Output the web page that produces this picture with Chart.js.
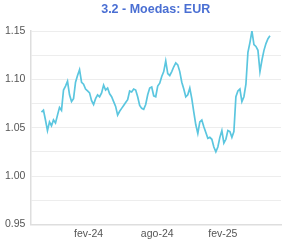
<!DOCTYPE html>
<html>
<head>
<meta charset="utf-8">
<script src="https://cdn.jsdelivr.net/npm/chart.js@4"></script>
<style>
    html, body { margin: 0; padding: 0; background: #fff; }
    #wrap { width: 285px; height: 243px; position: relative; }
</style>
</head>
<body>
<div id="wrap"><canvas id="chart"></canvas></div>
<script>
// EUR quote, one sample about every 5-6 days (Sep 2023 -> Jun 2025)
const rates = [
    1.066, 1.068, 1.058, 1.047, 1.056, 1.052, 1.058, 1.055, 1.063, 1.071,
    1.068, 1.089, 1.093, 1.098, 1.084, 1.077, 1.080, 1.097, 1.104, 1.110,
    1.097, 1.095, 1.090, 1.088, 1.086, 1.078, 1.074, 1.080, 1.084, 1.082,
    1.086, 1.094, 1.089, 1.091, 1.085, 1.082, 1.077, 1.072, 1.063, 1.067,
    1.070, 1.073, 1.076, 1.079, 1.088, 1.087, 1.090, 1.089, 1.082, 1.073,
    1.070, 1.069, 1.074, 1.084, 1.091, 1.092, 1.083, 1.082, 1.093, 1.096,
    1.103, 1.108, 1.119, 1.106, 1.104, 1.108, 1.113, 1.117, 1.115, 1.108,
    1.097, 1.090, 1.082, 1.084, 1.091, 1.080, 1.066, 1.053, 1.044, 1.056,
    1.058, 1.051, 1.045, 1.039, 1.040, 1.038, 1.030, 1.025, 1.030, 1.040,
    1.047, 1.034, 1.038, 1.047, 1.046, 1.040, 1.046, 1.082, 1.088, 1.090,
    1.077, 1.082, 1.095, 1.128, 1.138, 1.150, 1.136, 1.134, 1.130, 1.108,
    1.120, 1.130, 1.137, 1.142, 1.145
];

// month labels and the sample index where each month starts
const tickLabels = ['fev-24', 'ago-24', 'fev-25'];
const tickPos = [23.5, 57.75, 90.5];

const xMin = -5.5;
const xMax = 119.5;

Chart.defaults.font.family = "'Liberation Sans', Arial, Helvetica, sans-serif";
Chart.defaults.color = '#555';

const ctx = document.getElementById('chart').getContext('2d');
new Chart(ctx, {
    type: 'line',
    data: {
        datasets: [{
            label: 'EUR',
            data: rates.map((v, i) => ({ x: i, y: v })),
            borderColor: '#5bc6df',
            borderWidth: 1.7,
            pointRadius: 0,
            tension: 0,
            fill: false
        }]
    },
    options: {
        responsive: true,
        maintainAspectRatio: false,
        animation: false,
        layout: {
            padding: { left: 0, right: 4, top: 0, bottom: 0 }
        },
        plugins: {
            legend: { display: false },
            tooltip: { enabled: false },
            title: {
                display: true,
                text: '3.2 - Moedas: EUR',
                color: '#4a6fd3',
                fullSize: false,
                font: { size: 12.5, weight: 'bold' },
                padding: { top: 2, bottom: 14 }
            }
        },
        scales: {
            x: {
                type: 'linear',
                min: xMin,
                max: xMax,
                afterBuildTicks: (axis) => {
                    axis.ticks = tickPos.map(p => ({ value: p }));
                },
                grid: { display: false, drawTicks: false },
                border: { display: true, color: '#dedede', width: 1.5 },
                ticks: {
                    autoSkip: false,
                    maxRotation: 0,
                    padding: 3,
                    font: { size: 10.5 },
                    callback: (value, index) => tickLabels[index]
                }
            },
            y: {
                min: 0.95,
                max: 1.15,
                grid: { color: '#ededed', drawTicks: false },
                border: { display: true, color: '#dedede', width: 1.5 },
                ticks: {
                    stepSize: 0.025,
                    autoSkip: false,
                    padding: 5,
                    font: { size: 10.5 },
                    callback: (value, index) => index % 2 === 0 ? value.toFixed(2) : ''
                }
            }
        }
    }
});
</script>
</body>
</html>
